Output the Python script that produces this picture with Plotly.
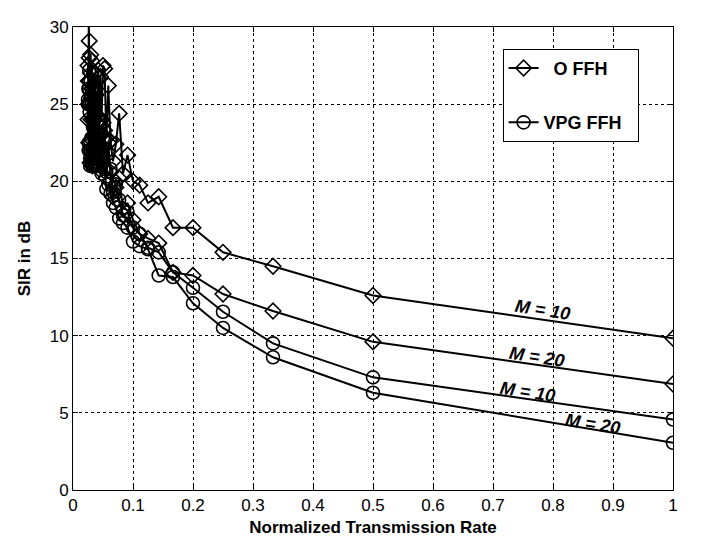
import plotly.graph_objects as go

n_vals = list(range(1, 41))
rate = [1.0 / n for n in n_vals]

o_ffh_m10 = [9.83, 12.6, 14.5, 15.4, 17.0, 17.0, 19.0, 18.6, 19.75, 20.0,
             21.7, 20.5, 24.4, 22.4, 21.3, 22.6, 26.2, 22.8, 27.3, 27.5,
             24.0, 26.8, 22.5, 27.2, 23.8, 25.6, 21.8, 27.0, 23.0, 26.0,
             21.5, 27.8, 24.0, 28.2, 22.0, 26.5, 29.1, 30.8, 25.0, 27.5]
o_ffh_m20 = [6.87, 9.6, 11.6, 12.7, 13.9, 14.1, 16.0, 16.3, 16.6, 17.5,
             18.6, 18.2, 20.2, 19.6, 19.0, 20.6, 22.5, 20.2, 23.3, 23.8,
             21.5, 23.0, 20.8, 24.2, 21.5, 23.0, 21.0, 25.0, 22.0, 24.0,
             21.0, 26.0, 22.5, 27.0, 21.2, 25.0, 28.0, 22.5, 26.5, 24.0]
vpg_ffh_m10 = [4.57, 7.3, 9.5, 11.55, 13.1, 14.1, 15.4, 15.7, 16.6, 17.0,
               18.0, 17.8, 18.8, 19.8, 19.3, 20.8, 21.8, 20.6, 22.6, 22.8,
               21.5, 23.5, 21.2, 24.0, 22.0, 23.2, 21.2, 25.0, 22.0, 24.0,
               21.2, 26.0, 22.8, 26.5, 21.5, 25.2, 27.2, 22.5, 26.0, 25.0]
vpg_ffh_m20 = [3.06, 6.3, 8.6, 10.5, 12.1, 13.8, 13.9, 15.6, 15.8, 16.1,
               17.0, 17.3, 17.6, 18.3, 18.6, 19.2, 19.8, 19.5, 20.8, 21.3,
               20.5, 22.0, 21.0, 22.8, 21.2, 22.5, 21.0, 24.0, 21.5, 23.5,
               21.0, 25.0, 22.0, 25.5, 21.0, 24.5, 26.0, 22.0, 25.0, 25.3]

series = [
    ("<b>\u00a0\u00a0O FFH</b>", o_ffh_m10, "diamond-open", "o", True),
    ("<b>O FFH</b>", o_ffh_m20, "diamond-open", "o", False),
    ("<b>VPG FFH\u00a0\u00a0</b>", vpg_ffh_m10, "circle-open", "v", True),
    ("<b>VPG FFH</b>", vpg_ffh_m20, "circle-open", "v", False),
]

labels = ["M = 10", "M = 20", "M = 10", "M = 20"]
label_x = [0.784, 0.774, 0.759, 0.867]
label_y = [11.68, 8.6, 6.38, 4.28]

x_ticks = [0, 0.1, 0.2, 0.3, 0.4, 0.5, 0.6, 0.7, 0.8, 0.9, 1]
x_tick_text = ["0", "0.1", "0.2", "0.3", "0.4", "0.5", "0.6", "0.7", "0.8", "0.9", "1"]
y_ticks = [0, 5, 10, 15, 20, 25, 30]

fig = go.Figure()
for name, vals, sym, grp, show in series:
    fig.add_trace(go.Scatter(
        x=rate, y=vals, mode="lines+markers", name=name,
        legendgroup=grp, showlegend=show,
        line=dict(color="black", width=2),
        marker=dict(symbol=sym, size=13 if sym.startswith("circle") else 12,
                    color="black", line=dict(color="black", width=1.6)),
    ))

for t, lx, ly in zip(labels, label_x, label_y):
    fig.add_annotation(x=lx, y=ly, text="<b><i>" + t + "</i></b>", showarrow=False,
                       textangle=9, font=dict(size=18, color="black",
                                              family="Liberation Sans, Arial"))

axis_common = dict(
    showline=True, linecolor="black", linewidth=1, mirror="ticks",
    showgrid=True, gridcolor="black", gridwidth=1, griddash="3px,3px",
    zeroline=False, ticks="inside", ticklen=5, tickcolor="black",
    tickfont=dict(size=17, color="black"),
)

fig.update_layout(
    width=706, height=546,
    margin=dict(l=65, r=41, t=10, b=64),
    paper_bgcolor="white", plot_bgcolor="white",
    font=dict(family="Liberation Sans, Arial", color="black"),
    xaxis=dict(range=[0, 1], tickvals=x_ticks, ticktext=x_tick_text,
               title=dict(text="<b>Normalized Transmission Rate</b>",
                          font=dict(size=17), standoff=6),
               **axis_common),
    yaxis=dict(range=[0, 30], tickvals=y_ticks,
               title=dict(text="<b>SIR in dB</b>", font=dict(size=17), standoff=14),
               **axis_common),
    legend=dict(x=0.716, y=0.953, xanchor="left", yanchor="top",
                bordercolor="black", borderwidth=1, bgcolor="white",
                font=dict(size=18, color="black"), tracegroupgap=28,
                itemwidth=30),
)

fig.write_html("out.html")
